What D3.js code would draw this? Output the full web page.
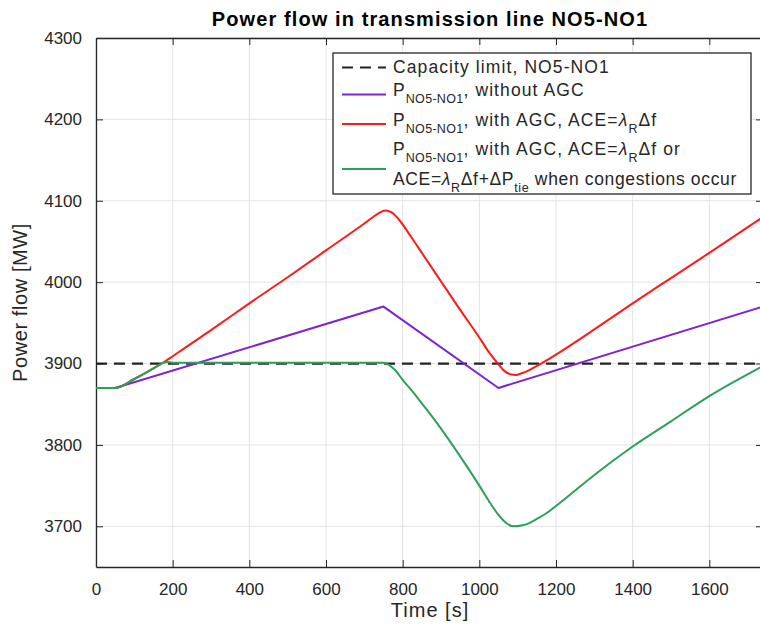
<!DOCTYPE html>
<meta charset="utf-8">
<script src="https://d3js.org/d3.v7.min.js"></script>
<style>
  body { margin: 0; background: #fff; }
  text { font-family: "Liberation Sans", Arial, sans-serif; fill: #262626; }
</style>
<div id="my_dataviz"></div>
<script>

// ---- data (time in s, power in MW) ----
var capacityLimit = 3900;

var timeNoAgc = [0, 50, 750, 1050, 1740];
var flowNoAgc = [3870, 3870, 3970, 3870, 3970];

var timeAgc = [0, 50, 100, 150, 175, 200, 300, 400, 500, 600, 700, 735, 755, 770, 790, 820, 850, 900, 950, 1000,
               1025, 1050, 1065, 1080, 1095, 1110, 1130, 1150, 1200, 1300, 1400, 1500, 1600, 1740];
var flowAgc = [3870, 3870, 3881, 3894, 3901, 3909, 3941, 3974, 4006, 4039, 4072, 4084, 4088, 4086, 4077, 4057, 4036, 4001, 3966, 3932,
               3914, 3899, 3891, 3887, 3886, 3888, 3892, 3897, 3911, 3942, 3974, 4005, 4036, 4080];

var timeCong = [0, 50, 100, 150, 175, 185, 200, 400, 600, 750, 765, 780, 800, 825, 850, 875, 900, 950,
                1000, 1025, 1050, 1070, 1090, 1110, 1130, 1150, 1175, 1200, 1250, 1300, 1400, 1500, 1600, 1740];
var flowCong = [3870, 3870, 3881, 3894, 3901, 3902, 3901, 3901, 3901, 3901, 3898, 3892, 3880, 3866, 3851, 3836, 3820, 3786,
                3750, 3731, 3714, 3704, 3700, 3701, 3704, 3709, 3716, 3725, 3744, 3763, 3798, 3829, 3860, 3897];

var xTicks = [0, 200, 400, 600, 800, 1000, 1200, 1400, 1600];
var yTicks = [3700, 3800, 3900, 4000, 4100, 4200, 4300];

// ---- layout ----
var W = 760, H = 630;
var pLeft = 96, pRight = 763, pTop = 38, pBottom = 567;

var svg = d3.select("#my_dataviz")
    .append("svg")
    .attr("width", W)
    .attr("height", H);

var x = d3.scaleLinear().domain([0, 1740]).range([pLeft, pRight]);
var y = d3.scaleLinear().domain([3650, 4300]).range([pBottom, pTop]);

// grid
svg.append("g")
    .selectAll("line")
    .data(xTicks)
    .enter().append("line")
    .attr("x1", function (d) { return x(d); })
    .attr("x2", function (d) { return x(d); })
    .attr("y1", pTop).attr("y2", pBottom)
    .style("stroke", "#e3e3e3").style("stroke-width", 1);
svg.append("g")
    .selectAll("line")
    .data(yTicks)
    .enter().append("line")
    .attr("x1", pLeft).attr("x2", pRight)
    .attr("y1", function (d) { return y(d); })
    .attr("y2", function (d) { return y(d); })
    .style("stroke", "#e3e3e3").style("stroke-width", 1);

// axes (ticks point inwards, MATLAB style)
var axColor = "#262626";
var xAxis = svg.append("g")
    .attr("transform", "translate(0," + pBottom + ")")
    .call(d3.axisBottom(x).tickValues(xTicks).tickFormat(d3.format("d")).tickSizeInner(-7).tickSizeOuter(0).tickPadding(16));
var xAxisTop = svg.append("g")
    .attr("transform", "translate(0," + pTop + ")")
    .call(d3.axisTop(x).tickValues(xTicks).tickSizeInner(-7).tickSizeOuter(0).tickFormat(""));
var yAxis = svg.append("g")
    .attr("transform", "translate(" + pLeft + ",0)")
    .call(d3.axisLeft(y).tickValues(yTicks).tickFormat(d3.format("d")).tickSizeInner(-7).tickSizeOuter(0).tickPadding(14));
var yAxisRight = svg.append("g")
    .attr("transform", "translate(" + pRight + ",0)")
    .call(d3.axisRight(y).tickValues(yTicks).tickSizeInner(-7).tickSizeOuter(0).tickFormat(""));

[xAxis, xAxisTop, yAxis, yAxisRight].forEach(function (g) {
    g.select(".domain").style("stroke", axColor).style("stroke-width", 1.3);
    g.selectAll(".tick line").style("stroke", axColor).style("stroke-width", 1);
    g.selectAll(".tick text")
        .style("font-family", "'Liberation Sans', Arial, sans-serif")
        .style("font-size", "17px")
        .style("fill", axColor);
});

// lines
var line = d3.line()
    .x(function (d) { return x(d[0]); })
    .y(function (d) { return y(d[1]); });
// the AGC responses are smooth, the no-AGC case has sharp corners
var smoothLine = d3.line()
    .curve(d3.curveMonotoneX)
    .x(function (d) { return x(d[0]); })
    .y(function (d) { return y(d[1]); });

svg.append("clipPath").attr("id", "plotclip")
    .append("rect").attr("x", pLeft).attr("y", pTop)
    .attr("width", pRight - pLeft).attr("height", pBottom - pTop);

var plot = svg.append("g").attr("clip-path", "url(#plotclip)");

plot.append("path")
    .datum(x.domain().map(function (t) { return [t, capacityLimit]; }))
    .attr("d", line)
    .style("fill", "none").style("stroke", "#222").style("stroke-width", 2.2)
    .style("stroke-dasharray", "11,7");

var series = [
    { t: timeNoAgc, v: flowNoAgc, color: "#7e22d6", gen: line },
    { t: timeAgc, v: flowAgc, color: "#ff1a1a", gen: smoothLine },
    { t: timeCong, v: flowCong, color: "#2ca05a", gen: smoothLine }
];

series.forEach(function (s) {
    plot.append("path")
        .datum(s.t.map(function (t, i) { return [t, s.v[i]]; }))
        .attr("d", s.gen)
        .style("fill", "none")
        .style("stroke", s.color)
        .style("stroke-width", 2)
        .style("stroke-linejoin", "round");
});

// title + axis labels
svg.append("text")
    .attr("x", 430)
    .attr("y", 26)
    .attr("text-anchor", "middle")
    .style("font-size", "20px")
    .style("font-weight", "bold")
    .style("letter-spacing", "1.1px")
    .style("fill", "#000")
    .text("Power flow in transmission line NO5-NO1");

svg.append("text")
    .attr("x", 430)
    .attr("y", 617)
    .attr("text-anchor", "middle")
    .style("font-size", "20px")
    .style("letter-spacing", "1px")
    .text("Time [s]");

svg.append("text")
    .attr("transform", "translate(27," + ((pTop + pBottom) / 2) + ") rotate(-90)")
    .attr("text-anchor", "middle")
    .style("font-size", "20px")
    .style("letter-spacing", "0.6px")
    .text("Power flow [MW]");

// legend
var lg = svg.append("g");
lg.append("rect")
    .attr("x", 333).attr("y", 53)
    .attr("width", 418).attr("height", 141)
    .style("fill", "#fff").style("stroke", axColor).style("stroke-width", 1.3);

var lx1 = 342, lx2 = 386, tx = 393;
var sub = 12.5;

function legendText(spacing) {
    return lg.append("text")
        .style("font-size", "17.5px")
        .style("letter-spacing", spacing + "px");
}
function pSub(t, yy) {
    t.append("tspan").attr("x", tx).attr("y", yy).text("P");
    t.append("tspan").attr("dy", 7).style("font-size", sub + "px").style("letter-spacing", "0.3px").text("NO5-NO1");
    t.append("tspan").attr("dy", -7).text(", ");
}
function lambdaR(t) {
    t.append("tspan").style("font-style", "italic").text("\u03bb");
    t.append("tspan").attr("dy", 7).style("font-size", sub + "px").text("R");
    t.append("tspan").attr("dy", -7).text("\u0394f");
}

lg.append("line").attr("x1", lx1).attr("x2", lx2).attr("y1", 67.5).attr("y2", 67.5)
    .style("stroke", "#222").style("stroke-width", 2.2).style("stroke-dasharray", "11,7");
legendText(1.1).attr("x", tx).attr("y", 73).text("Capacity limit, NO5-NO1");

lg.append("line").attr("x1", lx1).attr("x2", lx2).attr("y1", 94.5).attr("y2", 94.5)
    .style("stroke", series[0].color).style("stroke-width", 2);
var t1 = legendText(1.1);
pSub(t1, 96);
t1.append("tspan").text("without AGC");

lg.append("line").attr("x1", lx1).attr("x2", lx2).attr("y1", 124).attr("y2", 124)
    .style("stroke", series[1].color).style("stroke-width", 2);
var t2 = legendText(1.1);
pSub(t2, 126);
t2.append("tspan").text("with AGC, ACE=");
lambdaR(t2);

lg.append("line").attr("x1", lx1).attr("x2", lx2).attr("y1", 169).attr("y2", 169)
    .style("stroke", series[2].color).style("stroke-width", 2);
var t3 = legendText(1.1);
pSub(t3, 155);
t3.append("tspan").text("with AGC, ACE=");
lambdaR(t3);
t3.append("tspan").text(" or");
var t4 = legendText(0.65);
t4.append("tspan").attr("x", tx).attr("y", 185).text("ACE=");
lambdaR(t4);
t4.append("tspan").text("+\u0394P");
t4.append("tspan").attr("dy", 7).style("font-size", sub + "px").text("tie");
t4.append("tspan").attr("dy", -7).text(" when congestions occur");

</script>
